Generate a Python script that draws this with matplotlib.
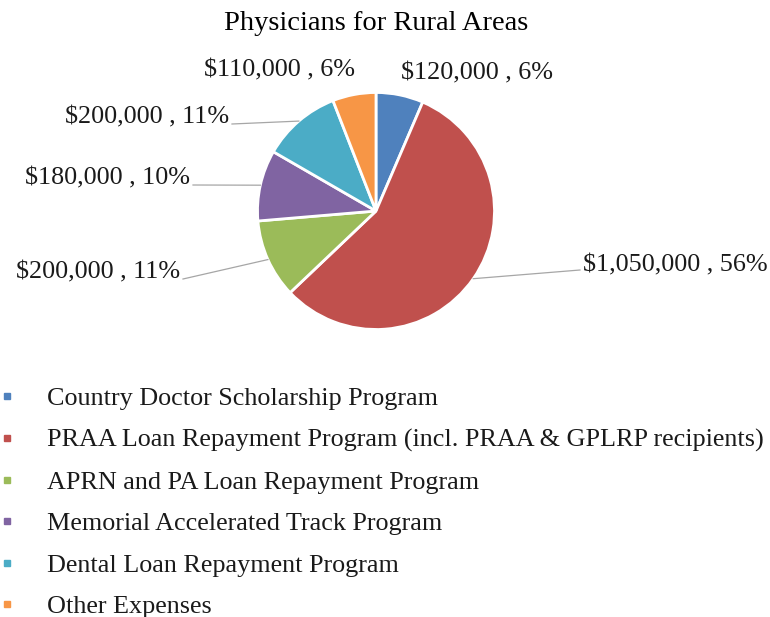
import numpy as np
import matplotlib
matplotlib.use("Agg")
import matplotlib.pyplot as plt
from matplotlib.lines import Line2D

programs = ["Country Doctor Scholarship Program",
            "PRAA Loan Repayment Program (incl. PRAA & GPLRP recipients)",
            "APRN and PA Loan Repayment Program",
            "Memorial Accelerated Track Program",
            "Dental Loan Repayment Program",
            "Other Expenses"]
amounts = [120000, 1050000, 200000, 180000, 200000, 110000]
colors = ["#4F81BD", "#C0504D", "#9BBB59", "#8064A2", "#4BACC6", "#F79646"]

# label anchors in pixels (x, y from top), alignment, leader line or not
label_pos = [(401, 73, "left", False),
             (583, 265, "left", True),
             (180, 272, "right", True),
             (190, 178, "right", True),
             (229, 117, "right", True),
             (355, 70, "right", False)]

W, H = 770, 617
cx, cy, R = 376, 211, 118.5

plt.rcParams["font.family"] = ["Liberation Serif", "DejaVu Serif"]

fig = plt.figure(figsize=(W / 100, H / 100), dpi=100)
ax = fig.add_axes([0, 0, 1, 1])

wedges, _ = ax.pie(amounts, colors=colors, startangle=90, counterclock=False,
                   radius=1.0, wedgeprops=dict(edgecolor="white", linewidth=2))

# pie() resets limits, so set them afterwards
ax.set_xlim(-cx / R, (W - cx) / R)
ax.set_ylim(-(H - cy) / R, cy / R)
ax.set_aspect("equal")
ax.axis("off")


def px(x, y):
    return (x - cx) / R, (cy - y) / R


total = float(sum(amounts))
for w, amt, (lx, ly, ha, leader) in zip(wedges, amounts, label_pos):
    txt = "${:,} , {:.0f}%".format(amt, 100 * amt / total)
    tx, ty = px(lx, ly)
    ax.text(tx, ty, txt, ha=ha, va="center", fontsize=18.8, color="#1a1a1a")
    if leader:
        mid = np.deg2rad((w.theta1 + w.theta2) / 2)
        ex, ey = np.cos(mid), np.sin(mid)
        off = 3 / R if ha == "left" else -3 / R
        ax.plot([ex, tx - off], [ey, ty - 7 / R if ha == "right" else ty - 5 / R],
                color="#A6A6A6", lw=0.9)

ax.text(*px(376, 23), "Physicians for Rural Areas", ha="center", va="center",
        fontsize=20.5, color="#000000")

handles = [Line2D([], [], marker="s", linestyle="none", color=c, markersize=4.5)
           for c in colors]
fig.legend(handles, programs, loc="upper left",
           bbox_to_anchor=(0.0, 1 - 387 / H), frameon=False, fontsize=18.8,
           handlelength=0.5, handletextpad=1.3, borderpad=0, borderaxespad=0,
           labelspacing=0.70, labelcolor="#1a1a1a")

fig.savefig("out.png", dpi=100)
